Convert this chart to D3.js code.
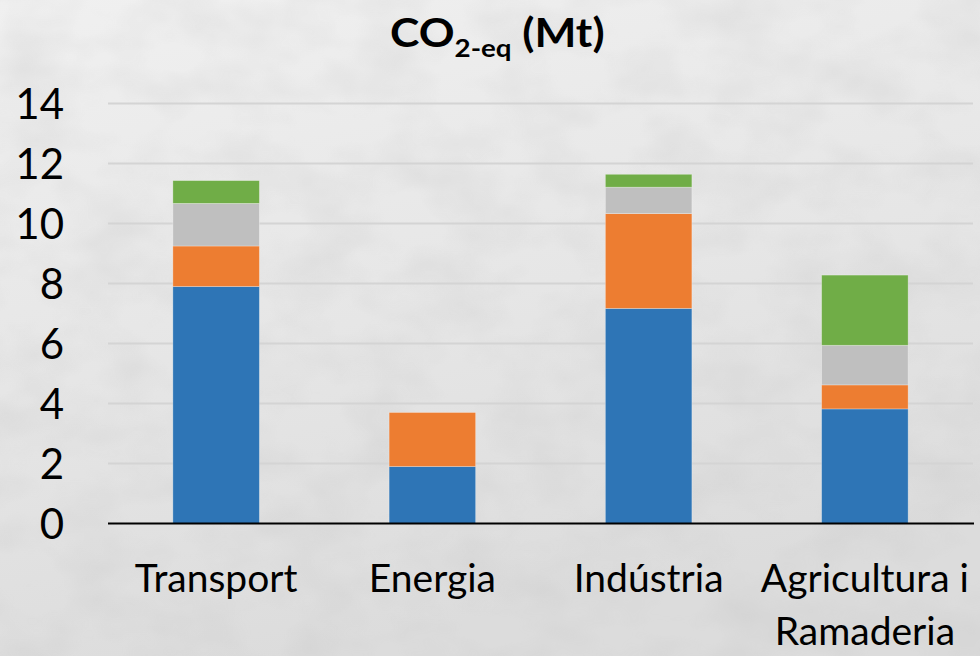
<!DOCTYPE html>
<html>
<head>
<meta charset="utf-8">
<script src="https://cdn.jsdelivr.net/npm/d3@7"></script>
<style>
  html, body { margin: 0; padding: 0; background: #e6e6e6; }
  svg { display: block; }
</style>
</head>
<body>
<svg id="chart" width="980" height="656"></svg>
<script>
// Sectors on the x axis (multi-line labels split on "\n")
const categories = ["Transport", "Energia", "Indústria", "Agricultura i\nRamaderia"];

// Stacked contributions per sector, bottom to top (Mt CO2-eq)
const seriesKeys = ["s1", "s2", "s3", "s4"];
const s1 = [7.90, 1.90, 7.17, 3.82];
const s2 = [1.35, 1.80, 3.16, 0.80];
const s3 = [1.42, 0.00, 0.88, 1.32];
const s4 = [0.76, 0.00, 0.43, 2.34];
const seriesColors = ["#2E75B6", "#ED7D31", "#BFBFBF", "#70AD47"];

// Y axis ticks
const yTicks = [0, 2, 4, 6, 8, 10, 12, 14];

const rows = categories.map((c, i) => ({ cat: c, s1: s1[i], s2: s2[i], s3: s3[i], s4: s4[i] }));

const W = 980, H = 656;
const margin = { left: 108, right: 7, top: 103.5, bottom: 132.5 };

const svg = d3.select("#chart");

// Soft grey textured backdrop
const defs = svg.append("defs");
const grad = defs.append("linearGradient").attr("id", "bg").attr("x1", 0).attr("y1", 0).attr("x2", 0.3).attr("y2", 1);
grad.append("stop").attr("offset", "0%").attr("stop-color", "#f0f0f0");
grad.append("stop").attr("offset", "55%").attr("stop-color", "#e6e6e6");
grad.append("stop").attr("offset", "100%").attr("stop-color", "#dcdcdc");
const tex = defs.append("filter").attr("id", "tex").attr("x", 0).attr("y", 0).attr("width", "100%").attr("height", "100%");
tex.append("feTurbulence").attr("type", "fractalNoise").attr("baseFrequency", "0.014 0.02").attr("numOctaves", 3).attr("seed", 11).attr("result", "n");
tex.append("feColorMatrix").attr("in", "n").attr("type", "matrix")
  .attr("values", "0 0 0 0 0.5  0 0 0 0 0.5  0 0 0 0 0.5  0 0 0 -1.2 0.75");

svg.append("rect").attr("width", W).attr("height", H).attr("fill", "url(#bg)");
svg.append("rect").attr("width", W).attr("height", H).attr("filter", "url(#tex)").attr("opacity", 0.35);

const x = d3.scaleBand()
  .domain(categories)
  .range([margin.left, W - margin.right])
  .paddingInner(0.6)
  .paddingOuter(0.3);

const y = d3.scaleLinear()
  .domain([0, 14])
  .range([H - margin.bottom, margin.top]);

// Gridlines
svg.append("g")
  .selectAll("line")
  .data(yTicks.filter(t => t > 0))
  .join("line")
  .attr("x1", margin.left)
  .attr("x2", W - margin.right)
  .attr("y1", d => y(d))
  .attr("y2", d => y(d))
  .attr("stroke", "#d4d4d4")
  .attr("stroke-width", 2);

// Stacked bars
const stack = d3.stack().keys(seriesKeys);
const layers = stack(rows);

svg.append("g")
  .selectAll("g")
  .data(layers)
  .join("g")
  .attr("fill", (d, i) => seriesColors[i])
  .selectAll("rect")
  .data(d => d.filter(p => p[1] - p[0] > 0))
  .join("rect")
  .attr("x", d => x(d.data.cat))
  .attr("width", x.bandwidth())
  .attr("y", d => y(d[1]))
  .attr("height", d => y(d[0]) - y(d[1]))
  .attr("stroke", "rgba(255,255,255,0.35)")
  .attr("stroke-width", 0.8);

// Y axis labels
const yAxis = d3.axisLeft(y).tickValues(yTicks).tickSize(0).tickPadding(0).tickFormat(d3.format("d"));
const gy = svg.append("g").attr("transform", `translate(64,0)`).call(yAxis);
gy.select(".domain").remove();
gy.selectAll("text")
  .attr("font-family", "Lato, 'Open Sans', sans-serif")
  .attr("font-size", 42)
  .attr("fill", "#000")
  .attr("dy", "0.36em");

// X axis baseline
svg.append("line")
  .attr("x1", margin.left)
  .attr("x2", W - margin.right + 1)
  .attr("y1", y(0))
  .attr("y2", y(0))
  .attr("stroke", "#000")
  .attr("stroke-width", 2);

// Category labels
const xAxis = d3.axisBottom(x).tickSize(0).tickPadding(0);
const gx = svg.append("g").attr("transform", `translate(0,${y(0)})`).call(xAxis);
gx.select(".domain").remove();
gx.selectAll("text").each(function (d) {
  const t = d3.select(this);
  t.text(null)
    .attr("y", 0)
    .attr("dy", null)
    .attr("font-family", "Lato, 'Open Sans', sans-serif")
    .attr("font-size", 39)
    .attr("fill", "#000");
  d.split("\n").forEach((line, i) => {
    t.append("tspan").attr("x", 0).attr("y", 68 + i * 53).text(line);
  });
});

// Title: CO2-eq (Mt)
const title = svg.append("g").attr("transform", "translate(390,47) scale(1.11,1)");
const tt = title.append("text")
  .attr("font-family", "Lato, 'Open Sans', sans-serif")
  .attr("font-weight", "bold")
  .attr("font-size", 40)
  .attr("fill", "#000");
tt.append("tspan").text("CO");
tt.append("tspan").attr("font-size", 25).attr("dy", 10).text("2-eq");
tt.append("tspan").attr("dy", -10).text(" (Mt)");
</script>
</body>
</html>
